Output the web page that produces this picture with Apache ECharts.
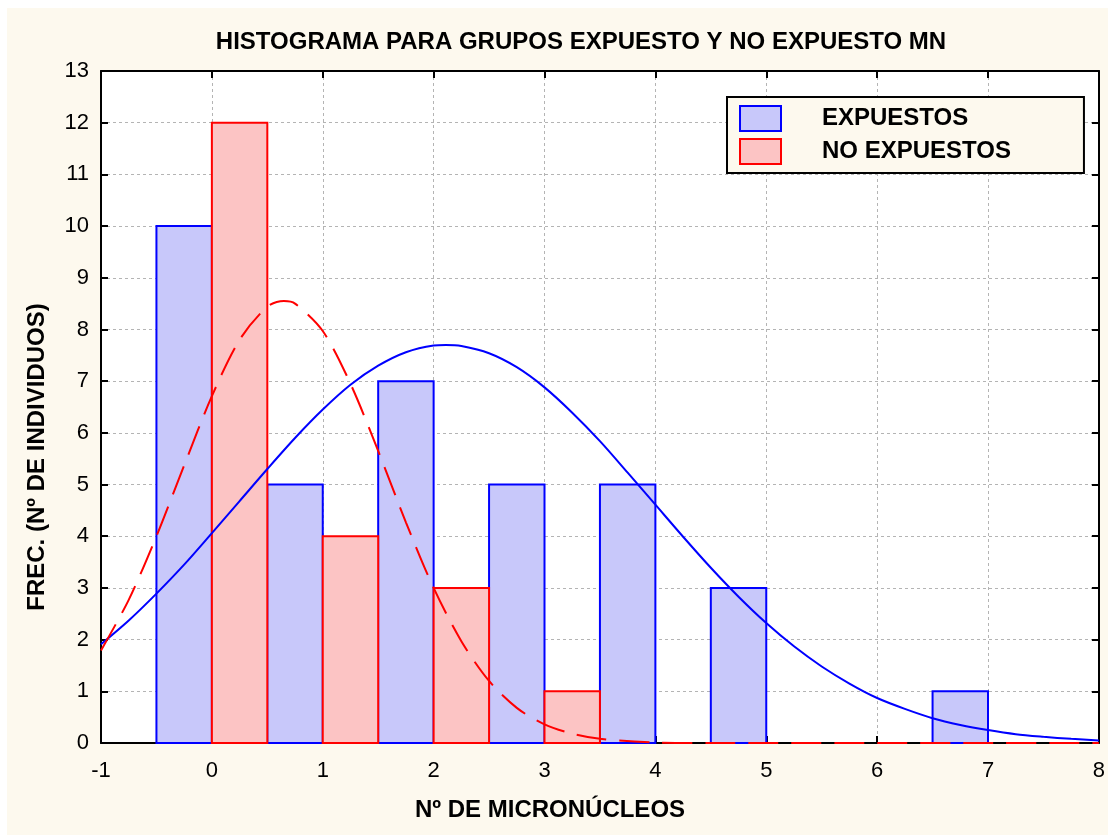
<!DOCTYPE html>
<html>
<head>
<meta charset="utf-8">
<script src="https://cdn.jsdelivr.net/npm/echarts@6/dist/echarts.min.js"></script>
<style>
html,body{margin:0;padding:0;background:#ffffff;}
#chart{width:1108px;height:835px;}
</style>
</head>
<body>
<div id="chart"></div>
<script>
// ---- data ----
const titleText = 'HISTOGRAMA PARA GRUPOS EXPUESTO Y NO EXPUESTO MN';
const xTitle = 'Nº DE MICRONÚCLEOS';
const yTitle = 'FREC. (Nº DE INDIVIDUOS)';
const seriesNames = ['EXPUESTOS', 'NO EXPUESTOS'];

const binValues = [0, 1, 2, 3, 4, 5, 6, 7];
const expuestos = [10, 5, 7, 5, 5, 3, 0, 1];
const noExpuestos = [12, 4, 3, 1, 0, 0, 0, 0];

// fitted normal curve of EXPUESTOS
const curveExpX = [-1, -0.75, -0.5, -0.25, 0, 0.25, 0.5, 0.75, 1, 1.25, 1.5, 1.75, 2, 2.11, 2.25, 2.5, 2.75, 3, 3.25, 3.5, 3.75, 4, 4.25, 4.5, 4.75, 5, 5.25, 5.5, 5.75, 6, 6.25, 6.5, 6.75, 7, 7.25, 7.5, 7.75, 8];
const curveExpY = [1.91, 2.37, 2.89, 3.45, 4.06, 4.68, 5.30, 5.90, 6.45, 6.93, 7.30, 7.56, 7.69, 7.70, 7.68, 7.54, 7.27, 6.88, 6.39, 5.84, 5.23, 4.61, 3.99, 3.39, 2.83, 2.32, 1.87, 1.48, 1.15, 0.87, 0.66, 0.48, 0.35, 0.25, 0.17, 0.12, 0.08, 0.05];

// fitted normal curve of NO EXPUESTOS
const curveNoX = [-1, -0.75, -0.5, -0.25, 0, 0.25, 0.5, 0.65, 0.75, 1, 1.25, 1.5, 1.75, 2, 2.25, 2.5, 2.75, 3, 3.25, 3.5, 4, 4.5, 5, 6, 7, 8];
const curveNoY = [1.79, 2.77, 4.00, 5.37, 6.71, 7.80, 8.44, 8.55, 8.50, 7.97, 6.95, 5.65, 4.27, 3.00, 1.97, 1.20, 0.68, 0.36, 0.18, 0.08, 0.01, 0, 0, 0, 0, 0];

const xMin = -1, xMax = 8, yMin = 0, yMax = 13;

// ---- styles ----
const FONT = '"Liberation Sans", Arial, sans-serif';
const BLUE = '#0000ff', BLUE_FILL = '#c8c8fa';
const RED = '#ff0000', RED_FILL = '#fcc4c4';
const CREAM = '#fdf9ee';

function pairs(xs, ys) { return xs.map((x, i) => [x, ys[i]]); }

function barRenderer(side, fill, stroke) {
  return function (params, api) {
    const x = api.value(0), v = api.value(1);
    if (!v) return null;
    const left = side < 0 ? x - 0.5 : x;
    const right = side < 0 ? x : x + 0.5;
    const p0 = api.coord([left, 0]);
    const p1 = api.coord([right, v]);
    return {
      type: 'rect',
      shape: { x: p0[0], y: p1[1], width: p1[0] - p0[0], height: p0[1] - p1[1] },
      style: { fill: fill, stroke: stroke, lineWidth: 2 }
    };
  };
}

const chart = echarts.init(document.getElementById('chart'), null, { renderer: 'canvas' });

const axisCommon = {
  type: 'value',
  interval: 1,
  axisLine: { show: true, onZero: false, lineStyle: { color: '#000', width: 2 } },
  axisTick: { show: true, inside: true, length: 7, lineStyle: { color: '#000', width: 2 } },
};

chart.setOption({
  animation: false,
  backgroundColor: '#ffffff',
  textStyle: { fontFamily: FONT },
  graphic: [
    { type: 'rect', z: -100, silent: true, shape: { x: 7, y: 8, width: 1101, height: 827 }, style: { fill: CREAM } },
    { type: 'text', x: 581, y: 42, style: { text: titleText, font: 'bold 24px ' + FONT, fill: '#000', textAlign: 'center', textVerticalAlign: 'middle' } },
    { type: 'text', x: 550, y: 810, style: { text: xTitle, font: 'bold 24px ' + FONT, fill: '#000', textAlign: 'center', textVerticalAlign: 'middle' } },
    { type: 'text', x: 37, y: 457, rotation: Math.PI / 2, style: { text: yTitle, font: 'bold 24px ' + FONT, fill: '#000', textAlign: 'center', textVerticalAlign: 'middle' } }
  ],
  grid: { left: 101, right: 9, top: 71, bottom: 92, show: true, backgroundColor: '#ffffff', borderWidth: 0 },
  legend: {
    left: 727, top: 97,
    orient: 'vertical',
    backgroundColor: CREAM,
    borderColor: '#000', borderWidth: 2,
    padding: [8, 73, 8, 12],
    itemWidth: 41, itemHeight: 25, itemGap: 6,
    textStyle: { fontFamily: FONT, fontSize: 24, fontWeight: 'bold', color: '#000', padding: [0, 0, 0, 36] },
    data: [
      { name: seriesNames[0], icon: 'rect', itemStyle: { color: BLUE_FILL, borderColor: BLUE, borderWidth: 2 } },
      { name: seriesNames[1], icon: 'rect', itemStyle: { color: RED_FILL, borderColor: RED, borderWidth: 2 } }
    ]
  },
  xAxis: [
    Object.assign({}, axisCommon, {
      min: xMin, max: xMax, position: 'bottom',
      axisLabel: { show: true, color: '#000', fontSize: 22, fontFamily: FONT, margin: 17 },
      splitLine: { show: true, lineStyle: { color: '#b4b4b4', type: [3, 3], width: 1 } }
    }),
    Object.assign({}, axisCommon, {
      min: xMin, max: xMax, position: 'top',
      axisLabel: { show: false }, splitLine: { show: false }
    })
  ],
  yAxis: [
    Object.assign({}, axisCommon, {
      min: yMin, max: yMax, position: 'left',
      axisLabel: { show: true, color: '#000', fontSize: 22, fontFamily: FONT, margin: 12 },
      splitLine: { show: true, lineStyle: { color: '#b4b4b4', type: [3, 3], width: 1 } }
    }),
    Object.assign({}, axisCommon, {
      min: yMin, max: yMax, position: 'right',
      axisLabel: { show: false }, splitLine: { show: false }
    })
  ],
  series: [
    {
      name: seriesNames[0], type: 'custom', z: 2,
      itemStyle: { color: BLUE_FILL, borderColor: BLUE },
      renderItem: barRenderer(-1, BLUE_FILL, BLUE),
      encode: { x: 0, y: 1 },
      data: pairs(binValues, expuestos)
    },
    {
      name: seriesNames[1], type: 'custom', z: 2,
      itemStyle: { color: RED_FILL, borderColor: RED },
      renderItem: barRenderer(1, RED_FILL, RED),
      encode: { x: 0, y: 1 },
      data: pairs(binValues, noExpuestos)
    },
    {
      name: 'Normal EXPUESTOS', type: 'line', z: 4, smooth: 0.3, symbol: 'none',
      lineStyle: { color: BLUE, width: 2 },
      data: pairs(curveExpX, curveExpY)
    },
    {
      name: 'Normal NO EXPUESTOS', type: 'line', z: 4, smooth: 0.3, symbol: 'none',
      lineStyle: { color: RED, width: 2, type: [30, 13] },
      data: pairs(curveNoX, curveNoY)
    }
  ]
});
</script>
</body>
</html>
